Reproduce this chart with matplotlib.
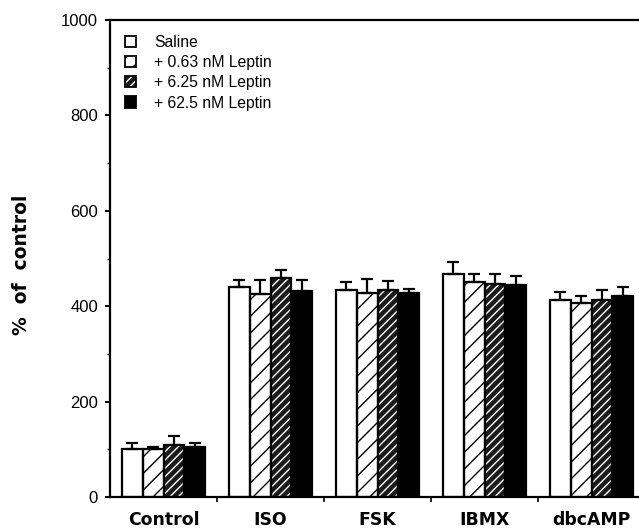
import numpy as np
import matplotlib
matplotlib.use("Agg")
import matplotlib.pyplot as plt
from matplotlib.patches import Rectangle
from matplotlib.legend_handler import HandlerBase

categories = ["Control", "ISO", "FSK", "IBMX", "dbcAMP"]
series = ["Saline", "+ 0.63 nM Leptin", "+ 6.25 nM Leptin", "+ 62.5 nM Leptin"]
saline = [100, 441, 435, 467, 412]
lep063 = [100, 426, 428, 451, 407]
lep625 = [109, 460, 434, 446, 412]
lep625b = [104, 432, 427, 444, 422]
err_saline = [14, 14, 16, 25, 18]
err_063 = [5, 29, 30, 16, 15]
err_625 = [19, 16, 19, 21, 22]
err_625b = [10, 23, 10, 20, 18]
yticks = [0, 200, 400, 600, 800, 1000]

values = [saline, lep063, lep625, lep625b]
errors = [err_saline, err_063, err_625, err_625b]

plt.rcParams['font.family'] = ['Liberation Sans', 'DejaVu Sans']
plt.rcParams['hatch.linewidth'] = 1.0

fig = plt.figure(figsize=(6.39, 5.28), dpi=100)
W, H = 639, 528
AXW = 535.0
ax = fig.add_axes([110 / W, 31 / H, AXW / W, 477 / H])

# styles: (facecolor, hatch color, hatch)
styles = [("white", None, None),
          ("white", "black", "//"),
          ("#1a1a1a", "white", "////"),
          ("black", None, None)]


class Style:
    def __init__(self, fc, hc, hatch):
        self.fc, self.hc, self.hatch = fc, hc, hatch


class HatchHandler(HandlerBase):
    def create_artists(self, legend, orig, xdescent, ydescent, width, height,
                       fontsize, trans):
        arts = []
        if orig.hatch:
            r1 = Rectangle((-xdescent, -ydescent), width, height, facecolor=orig.fc,
                           edgecolor=orig.hc, hatch=orig.hatch, linewidth=0,
                           transform=trans)
        else:
            r1 = Rectangle((-xdescent, -ydescent), width, height, facecolor=orig.fc,
                           linewidth=0, transform=trans)
        arts.append(r1)
        r2 = Rectangle((-xdescent, -ydescent), width, height, facecolor="none",
                       edgecolor="black", linewidth=1.3, transform=trans)
        arts.append(r2)
        return arts


x = np.arange(len(categories))
bw = 0.194
offsets = (np.arange(4) - 1.5) * bw
lw = 1.6

handles = []
for i in range(4):
    fc, hc, hatch = styles[i]
    pos = x + offsets[i]
    if hatch:
        ax.bar(pos, values[i], width=bw, color=fc, edgecolor=hc, hatch=hatch,
               linewidth=0, zorder=2)
    else:
        ax.bar(pos, values[i], width=bw, color=fc, linewidth=0, zorder=2)
    ax.bar(pos, values[i], width=bw, facecolor="none", edgecolor="black",
           linewidth=lw, zorder=3)
    ax.errorbar(pos, values[i], yerr=[np.zeros(len(pos)), errors[i]], fmt="none",
                ecolor="black", elinewidth=1.6, capsize=4.0, capthick=1.6, zorder=4)
    handles.append(Style(fc, hc, hatch))

ax.set_xlim(-0.5, 4.5)
ax.set_ylim(0, 1000)
ax.set_yticks(yticks)
ax.set_yticks(np.arange(100, 1000, 200), minor=True)
ax.set_xticks(x)
ax.set_xticklabels(categories, fontsize=12.4, fontweight="bold", family="DejaVu Sans")
ax.set_xticks(np.arange(0.5, 4.6, 1.0), minor=True)
ax.tick_params(axis="x", which="major", length=0, pad=10)
ax.tick_params(axis="x", which="minor", length=3.5, width=1.2, direction="out")
ax.tick_params(axis="y", which="major", length=3.6, width=1.5, labelsize=12, pad=5)
ax.tick_params(axis="y", which="minor", length=2.0, width=1.0)

for s in ["left", "bottom", "top", "right"]:
    ax.spines[s].set_linewidth(1.6)

ax.set_ylabel("%  of  control", fontsize=13.5, fontweight="bold", family="DejaVu Sans")
ax.yaxis.set_label_coords(-(110 - 31) / AXW, (497 - 265) / 477)

leg = ax.legend(handles, series, handler_map={Style: HatchHandler()},
                loc="upper left", bbox_to_anchor=(15 / AXW, 1 - 15 / 477),
                frameon=False, fontsize=11.3, handlelength=0.72, handleheight=0.72,
                handletextpad=1.15, labelspacing=0.33, borderaxespad=0, borderpad=0)

fig.savefig("out.png", dpi=100)
